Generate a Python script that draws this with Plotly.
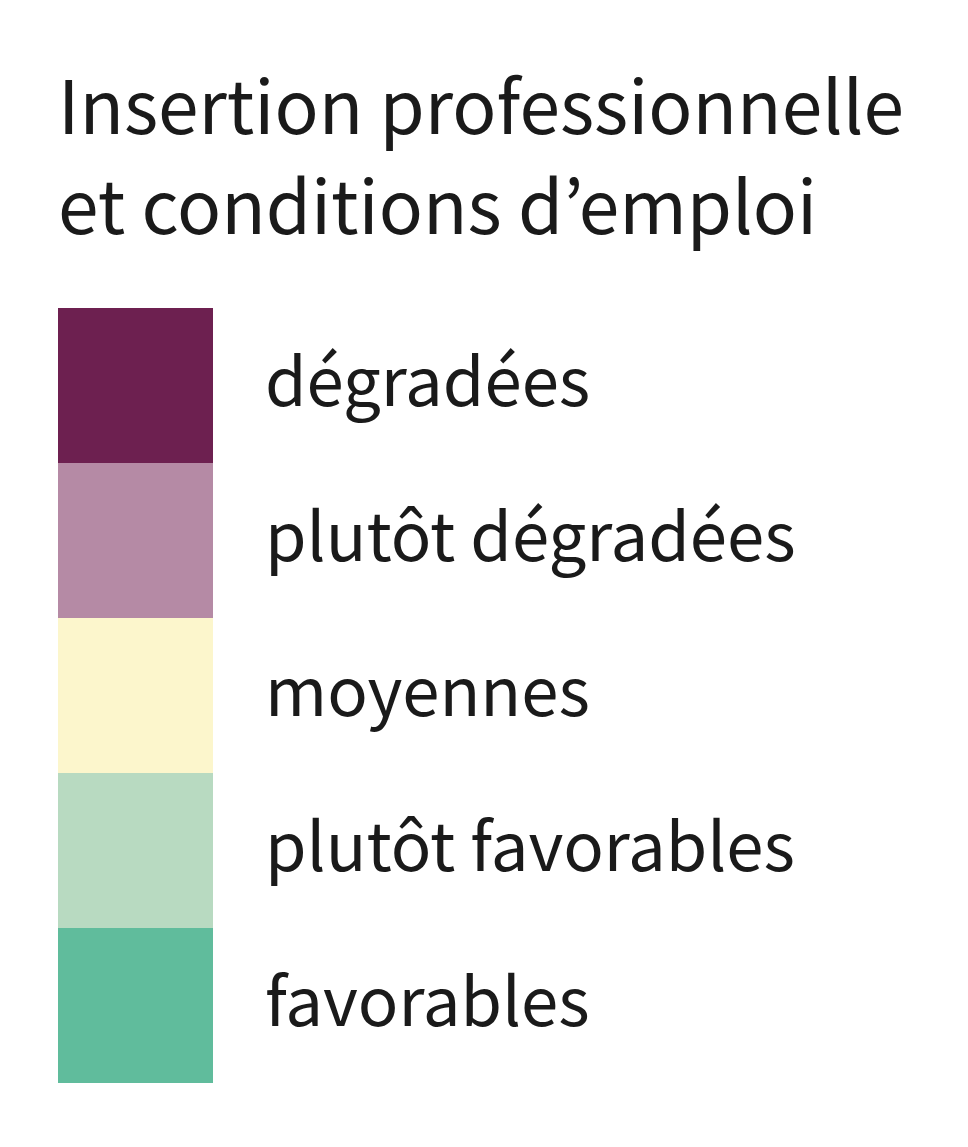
import plotly.graph_objects as go

title_lines = ["Insertion professionnelle", "et conditions d’emploi"]
categories = ["dégradées", "plutôt dégradées", "moyennes", "plutôt favorables", "favorables"]
colors = ["#6D2050", "#B58AA5", "#FCF6CC", "#B8DAC1", "#60BC9C"]
values = [1, 1, 1, 1, 1]
FONT = "Noto Sans CJK KR, Noto Sans, sans-serif"
INK = "#1A1A1A"
W, H = 960, 1139
L, T, PW, PH = 50, 300, 155, 775

fig = go.Figure()
for cat, col, val in zip(categories, colors, values):
    fig.add_trace(go.Bar(x=[val], y=[cat], orientation="h", marker=dict(color=col, line=dict(width=0)),
                         width=1, showlegend=False, hoverinfo="y"))

# title lines, placed by baseline in page pixels
for line, baseline in zip(title_lines, [133, 233]):
    fig.add_annotation(text=line, xref="paper", yref="paper", showarrow=False,
                       x=(48 - L) / PW, xanchor="left",
                       y=(T + PH - (baseline - 8)) / PH, yanchor="bottom", yshift=-24,
                       font=dict(size=73, family=FONT, color=INK))

fig.update_layout(
    width=W, height=H, barmode="stack", bargap=0,
    margin=dict(l=L, r=W - L - PW, t=T, b=H - T - PH),
    paper_bgcolor="white", plot_bgcolor="white",
    font=dict(family=FONT, color=INK),
    xaxis=dict(visible=False, range=[0, 1], fixedrange=True),
    yaxis=dict(categoryorder="array", categoryarray=categories, autorange="reversed", side="right",
               showgrid=False, zeroline=False, showline=False, ticks="", ticklabelstandoff=51,
               ticklabelshift=3,
               tickfont=dict(size=67.1, family=FONT, color=INK), fixedrange=True),
)
fig.write_html("out.html")
